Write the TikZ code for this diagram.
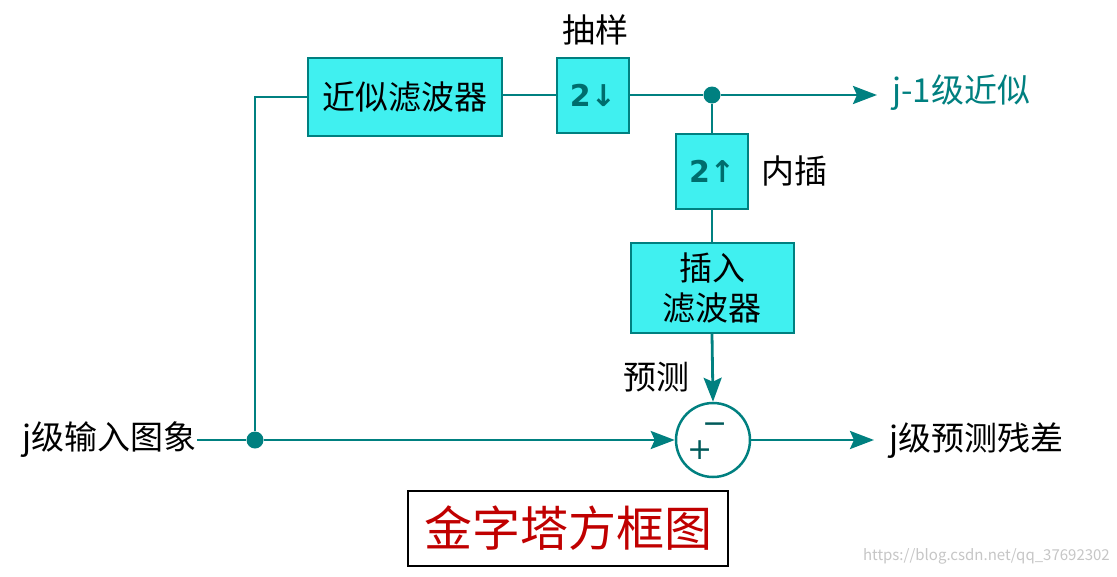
\documentclass[tikz,border=0pt]{standalone}
\usepackage{fontspec}
\setmainfont{Noto Sans CJK SC}
\newfontfamily\symfont{DejaVu Sans}
\usetikzlibrary{arrows.meta}
\definecolor{teal2}{HTML}{008080}
\definecolor{boxfill}{HTML}{40F0F0}
\definecolor{titlered}{HTML}{C00000}
\tikzset{
  x=1pt, y=-1pt,
  wire/.style={draw=teal2, line width=2.8pt},
  arr/.style={wire, -{Stealth[length=24pt,width=18pt,inset=4pt]}},
  fbox/.style={draw=teal2, line width=2pt, fill=boxfill, inner sep=0pt, align=center,
     font=\fontsize{33}{40}\selectfont},
  sbox/.style={fbox, minimum width=72pt, minimum height=75pt,
     font=\symfont\bfseries\fontsize{30}{32}\selectfont, text=teal2!85!black},
  lbl/.style={inner sep=0pt, font=\fontsize{33}{38}\selectfont},
  jdot/.style={circle, fill=teal2, inner sep=0pt, minimum size=17pt},
  sign/.style={inner sep=0pt, font=\symfont\fontsize{30}{30}\selectfont, text=teal2!70!black},
}
\begin{document}
\begin{tikzpicture}
\useasboundingbox (0,0) rectangle (1117,576);
\fill[white] (0,0) rectangle (1117,576);
% boxes
\node[fbox, minimum width=194pt, minimum height=78pt] (approx) at (405,97) {近似滤波器};
\node[sbox] (down) at (593,95) {2↓};
\node[sbox] (up) at (712,171) {2↑};
\node[fbox, minimum width=163pt, minimum height=90pt] (interp) at (712,288) {插入\\滤波器};
\node[circle, draw=teal2, line width=2.5pt, fill=white, minimum size=74pt, inner sep=0pt] (circ) at (713,440) {};
\node[sign] (minus) at (715,428) {−};
\node[sign] (plus) at (700,450) {+};
% dots
\node[jdot] (dotin) at (255,440) {};
\node[jdot] (dottop) at (712,95) {};
% labels
\node[lbl, anchor=east] (inlbl) at (197,440) {j级输入图象};
\node[lbl, anchor=west, text=teal2] (out1) at (892,93) {j-1级近似};
\node[lbl, anchor=west] (out2) at (889,441) {j级预测残差};
\node[lbl] (samp) at (595,30) {抽样};
\node[lbl, anchor=west] (neicha) at (761,171) {内插};
\node[lbl] (yuce) at (656,377) {预测};
\coordinate (a1end) at (877,95);
\coordinate (a2end) at (874,440);
% wires
\draw[wire] (inlbl.east) -- (dotin);
\draw[arr] (dotin) -- (circ.west);
\draw[wire] (dotin) |- (approx.west);
\draw[wire] (approx.east |- down.west) -- (down.west);
\draw[wire] (down.east) -- (dottop);
\draw[arr] (dottop) -- (a1end);
\draw[wire] (dottop) -- (up.north);
\draw[wire] (up.south) -- (interp.north);
\draw[arr] (interp.south) -- (circ.north);
\draw[arr] (circ.east) -- (a2end);
% title
\node[draw=black, line width=2pt, minimum width=320pt, minimum height=75pt, inner sep=0pt,
  text=titlered, font=\fontsize{48}{52}\selectfont] (title) at (568,528) {金字塔方框图};
\node[inner sep=0pt, anchor=east, text=gray!45, font=\fontsize{15}{16}\selectfont] (wm) at (1110,556) {https://blog.csdn.net/qq\_37692302};
\end{tikzpicture}
\end{document}
